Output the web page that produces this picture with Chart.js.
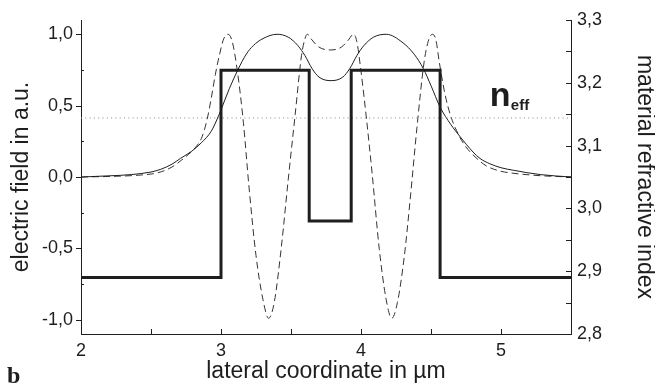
<!DOCTYPE html>
<html>
<head>
<meta charset="utf-8">
<script src="https://cdn.jsdelivr.net/npm/chart.js@4"></script>
<style>
  html, body { margin: 0; padding: 0; background: #fff; }
  canvas { display: block; }
</style>
</head>
<body>
<canvas id="modeChart" width="655" height="389"></canvas>
<script>
// lateral coordinate (µm) and field amplitudes
const solidX = [2.0, 2.2, 2.36, 2.5, 2.57, 2.65, 2.71, 2.79, 2.86, 2.93, 2.97, 3.0, 3.06, 3.12, 3.18, 3.23, 3.3, 3.4, 3.48, 3.55, 3.6, 3.65, 3.7, 3.786, 3.87, 3.92, 3.97, 4.02, 4.09, 4.18, 4.3, 4.38, 4.445, 4.5, 4.565, 4.64, 4.71, 4.8, 4.85, 4.92, 5.0, 5.09, 5.28, 5.5];
const solidY = [0.0, 0.008, 0.017, 0.035, 0.054, 0.09, 0.13, 0.18, 0.24, 0.32, 0.40, 0.47, 0.62, 0.75, 0.86, 0.92, 0.97, 1.0, 0.98, 0.92, 0.85, 0.76, 0.70, 0.675, 0.70, 0.76, 0.85, 0.92, 0.98, 1.0, 0.94, 0.86, 0.76, 0.64, 0.49, 0.37, 0.28, 0.175, 0.13, 0.093, 0.065, 0.047, 0.017, 0.0];

const dashedX = [2.0, 2.2, 2.4, 2.55, 2.65, 2.72, 2.77, 2.82, 2.86, 2.9, 2.93, 2.96, 2.99, 3.02, 3.05, 3.08, 3.12, 3.16, 3.2, 3.25, 3.3, 3.34, 3.38, 3.43, 3.48, 3.53, 3.575, 3.6, 3.617, 3.65, 3.7, 3.78, 3.86, 3.91, 3.946, 3.97, 4.0, 4.04, 4.08, 4.13, 4.18, 4.22, 4.26, 4.31, 4.35, 4.4, 4.45, 4.48, 4.51, 4.535, 4.56, 4.6, 4.64, 4.7, 4.75, 4.8, 4.85, 4.9, 5.0, 5.1, 5.2, 5.3, 5.5];
const dashedY = [0.0, 0.004, 0.012, 0.03, 0.07, 0.12, 0.16, 0.21, 0.27, 0.40, 0.55, 0.72, 0.86, 0.97, 1.0, 0.95, 0.72, 0.38, -0.07, -0.55, -0.86, -0.99, -0.88, -0.50, -0.02, 0.44, 0.85, 0.97, 1.0, 0.96, 0.91, 0.89, 0.91, 0.96, 1.0, 0.95, 0.74, 0.40, 0.02, -0.50, -0.86, -0.99, -0.88, -0.55, -0.17, 0.35, 0.80, 0.95, 1.0, 0.96, 0.80, 0.58, 0.43, 0.29, 0.21, 0.155, 0.11, 0.075, 0.04, 0.025, 0.015, 0.008, 0.0];

// refractive index profile (value to the right of each x)
const indexX = [2.0, 3.0, 3.63, 3.93, 4.565, 5.5];
const indexN = [2.89, 3.22, 2.98, 3.22, 2.89, 2.89];
const nEff = 3.144;

// ticks
const xMajor = [2, 3, 4, 5];
const xMinor = [2.5, 3.5, 4.5];
const leftMajor = [-1.0, -0.5, 0.0, 0.5, 1.0];
const leftMinor = [-0.75, -0.25, 0.25, 0.75];
const rightMajor = [2.8, 2.9, 3.0, 3.1, 3.2, 3.3];
const rightMinor = [2.85, 2.95, 3.05, 3.15, 3.25];

const pts = (xs, ys) => xs.map((x, i) => ({x: x, y: ys[i]}));
const comma = v => v.toFixed(1).replace('.', ',');
const FONT = '"Liberation Sans", Arial, Helvetica, sans-serif';
const INK = '#1e1e1e';

const tickMarks = {
    id: 'tickMarks',
    afterDraw(chart) {
        const {ctx, chartArea: {left, right, bottom}, scales: {x, yL, yR}} = chart;
        ctx.save();
        ctx.strokeStyle = INK;
        ctx.lineWidth = 1;
        ctx.beginPath();
        xMajor.concat(xMinor).forEach(v => {
            const px = Math.round(x.getPixelForValue(v)) + 0.5;
            ctx.moveTo(px, bottom);
            ctx.lineTo(px, bottom - 5);
        });
        leftMajor.forEach(v => {
            const py = Math.round(yL.getPixelForValue(v)) + 0.5;
            ctx.moveTo(left, py);
            ctx.lineTo(left - 5, py);
        });
        leftMinor.forEach(v => {
            const py = Math.round(yL.getPixelForValue(v)) + 0.5;
            ctx.moveTo(left, py);
            ctx.lineTo(left + 3, py);
        });
        rightMajor.concat(rightMinor).forEach(v => {
            const py = Math.round(yR.getPixelForValue(v)) + 0.5;
            ctx.moveTo(right, py);
            ctx.lineTo(right - 5, py);
        });
        ctx.stroke();

        // n_eff label next to the dotted line
        const lx = x.getPixelForValue(4.92);
        const ly = yR.getPixelForValue(nEff);
        ctx.fillStyle = INK;
        ctx.textBaseline = 'alphabetic';
        ctx.textAlign = 'left';
        ctx.font = 'bold 34px ' + FONT;
        ctx.fillText('n', lx, ly - 12);
        ctx.font = 'bold 15px ' + FONT;
        ctx.fillText('eff', lx + 21, ly - 8);

        // panel letter
        ctx.font = 'bold 24px "Liberation Serif", "Times New Roman", serif';
        ctx.fillText('b', 7, 383);
        ctx.restore();
    }
};

new Chart(document.getElementById('modeChart').getContext('2d'), {
    type: 'line',
    data: {
        datasets: [
            {
                data: pts(indexX, indexN),
                yAxisID: 'yR',
                stepped: 'before',
                borderColor: INK,
                borderWidth: 3,
                pointRadius: 0
            },
            {
                data: [{x: 2, y: nEff}, {x: 5.5, y: nEff}],
                yAxisID: 'yR',
                borderColor: '#888',
                borderWidth: 1,
                borderDash: [1, 3.3],
                pointRadius: 0
            },
            {
                data: pts(solidX, solidY),
                yAxisID: 'yL',
                cubicInterpolationMode: 'monotone',
                borderColor: INK,
                borderWidth: 1,
                pointRadius: 0
            },
            {
                data: pts(dashedX, dashedY),
                yAxisID: 'yL',
                cubicInterpolationMode: 'monotone',
                borderColor: '#333',
                borderWidth: 1,
                borderDash: [7, 4],
                pointRadius: 0
            }
        ]
    },
    options: {
        responsive: false,
        animation: false,
        layout: {padding: {top: 20, left: 0, right: 0, bottom: 0}},
        plugins: {legend: {display: false}, tooltip: {enabled: false}},
        scales: {
            x: {
                type: 'linear',
                min: 2,
                max: 5.5,
                afterBuildTicks: s => { s.ticks = xMajor.map(v => ({value: v})); },
                afterFit: s => { s.height = 55; },
                grid: {display: false, drawTicks: false},
                border: {display: true, color: INK, width: 1},
                ticks: {color: INK, padding: 6, maxRotation: 0, font: {family: FONT, size: 18}, callback: v => String(v)},
                title: {display: true, text: 'lateral coordinate in µm', color: INK, padding: {top: 0, bottom: 4}, font: {family: FONT, size: 23}}
            },
            yL: {
                position: 'left',
                min: -1.1,
                max: 1.1,
                afterBuildTicks: s => { s.ticks = leftMajor.map(v => ({value: v})); },
                afterFit: s => { s.width = 81; },
                grid: {display: false, drawTicks: false},
                border: {display: true, color: INK, width: 1},
                ticks: {color: INK, padding: 8, font: {family: FONT, size: 18}, callback: v => comma(v)},
                title: {display: true, text: 'electric field in a.u.', color: INK, padding: {top: 8, bottom: 0}, font: {family: FONT, size: 23}}
            },
            yR: {
                position: 'right',
                min: 2.8,
                max: 3.3,
                afterBuildTicks: s => { s.ticks = rightMajor.map(v => ({value: v})); },
                afterFit: s => { s.width = 84; },
                grid: {display: false, drawTicks: false},
                border: {display: true, color: INK, width: 1},
                ticks: {color: INK, padding: 6, font: {family: FONT, size: 18}, callback: v => comma(v)},
                title: {display: true, text: 'material refractive index', color: INK, padding: {top: -3, bottom: 0}, font: {family: FONT, size: 23}}
            }
        }
    },
    plugins: [tickMarks]
});
</script>
</body>
</html>
